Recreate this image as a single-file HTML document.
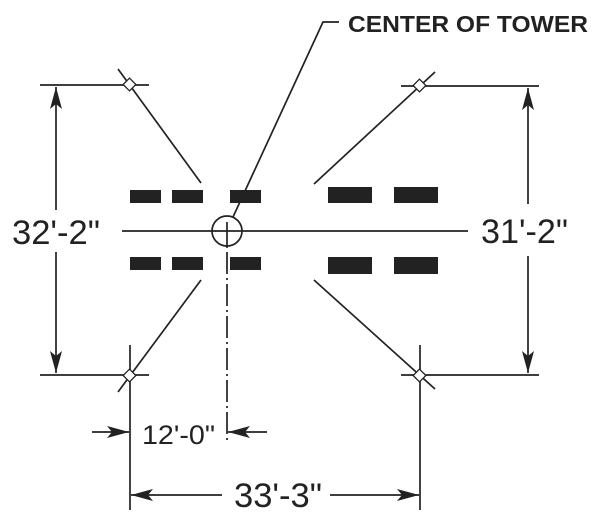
<!DOCTYPE html>
<html><head><style>body{margin:0;background:#fff}svg{display:block}</style></head><body>
<svg width="600" height="519" viewBox="0 0 600 519" xmlns="http://www.w3.org/2000/svg" font-family="Liberation Sans, sans-serif">
<defs><marker id="a" viewBox="0 0 22 12" refX="22" refY="6" markerWidth="22" markerHeight="12" markerUnits="userSpaceOnUse" orient="auto"><path d="M0,0L22,6L0,12L5,6Z" fill="#222"/></marker></defs>
<g stroke="#222" stroke-width="1.7" fill="none">
<line x1="40" y1="85" x2="149" y2="85"/><line x1="401" y1="86" x2="539" y2="86"/>
<line x1="40" y1="375" x2="149" y2="375"/><line x1="401" y1="375" x2="539" y2="375"/>
<line x1="118" y1="69" x2="201" y2="183"/><line x1="314" y1="184" x2="435" y2="72"/>
<line x1="201" y1="280" x2="118" y2="392"/><line x1="314" y1="280" x2="435" y2="389"/>
<line x1="130" y1="345" x2="130" y2="510"/><line x1="420" y1="345" x2="420" y2="510"/>
<line x1="122" y1="231" x2="468" y2="231"/>
<circle cx="227" cy="231" r="15"/><line x1="227" y1="222" x2="227" y2="248"/>
<line x1="227" y1="252" x2="227" y2="440" stroke-dasharray="22,4,2,4"/>
<polyline points="233,217 323,22 339,22"/>
<line x1="56" y1="210" x2="56" y2="87" marker-end="url(#a)"/><line x1="56" y1="252" x2="56" y2="373" marker-end="url(#a)"/>
<line x1="528" y1="204" x2="528" y2="88" marker-end="url(#a)"/><line x1="528" y1="256" x2="528" y2="373" marker-end="url(#a)"/>
<line x1="92" y1="432" x2="129" y2="432" marker-end="url(#a)"/><line x1="267" y1="432" x2="228" y2="432" marker-end="url(#a)"/>
<line x1="222" y1="495" x2="131" y2="495" marker-end="url(#a)"/><line x1="330" y1="495" x2="419" y2="495" marker-end="url(#a)"/>
<g fill="#fff" stroke-width="1.3">
<rect x="125" y="80" width="9" height="9" transform="rotate(45 129.5 84.5)"/>
<rect x="415" y="81" width="9" height="9" transform="rotate(45 419.5 85.5)"/>
<rect x="125" y="371" width="9" height="9" transform="rotate(45 129.5 375.5)"/>
<rect x="415" y="371" width="9" height="9" transform="rotate(45 419.5 375.5)"/>
</g></g>
<g fill="#222">
<rect x="130" y="190" width="31" height="13"/><rect x="172" y="190" width="31" height="13"/><rect x="230" y="190" width="31" height="13"/>
<rect x="130" y="257" width="31" height="13"/><rect x="172" y="257" width="31" height="13"/><rect x="230" y="257" width="31" height="13"/>
<rect x="328" y="187" width="44" height="16"/><rect x="394" y="187" width="44" height="16"/>
<rect x="328" y="257" width="44" height="17"/><rect x="394" y="257" width="44" height="17"/>
<text x="348" y="32" font-size="23" font-weight="bold" textLength="240" lengthAdjust="spacingAndGlyphs">CENTER OF TOWER</text>
<text x="12" y="244" font-size="34" textLength="88" lengthAdjust="spacingAndGlyphs">32'-2"</text>
<text x="481" y="243" font-size="34" textLength="87" lengthAdjust="spacingAndGlyphs">31'-2"</text>
<text x="142" y="444" font-size="27" textLength="73" lengthAdjust="spacingAndGlyphs">12'-0"</text>
<text x="234" y="507" font-size="34" textLength="88" lengthAdjust="spacingAndGlyphs">33'-3"</text>
</g>
</svg>
</body></html>
